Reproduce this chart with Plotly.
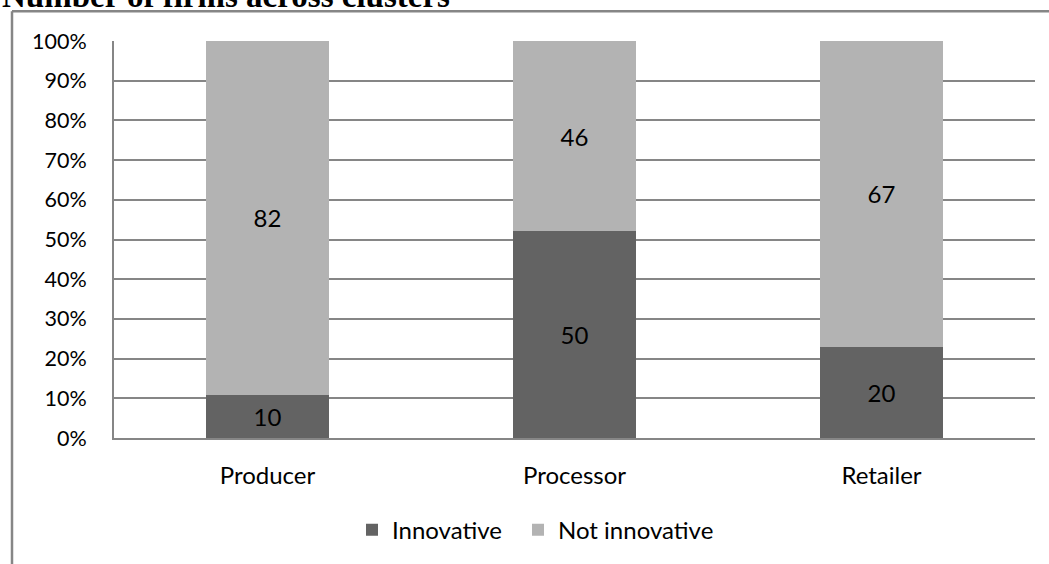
import plotly.graph_objects as go

categories = ["Producer", "Processor", "Retailer"]
innovative = [10, 50, 20]
not_innovative = [82, 46, 67]
series_names = ["Innovative", "Not innovative"]
y_ticks = [0, 10, 20, 30, 40, 50, 60, 70, 80, 90, 100]
y_tick_labels = [f"{v}%" for v in y_ticks]
title_text = "Number of firms across clusters"

FONT = "Lato"
W, H = 1049, 564
L, R, T, B = 114, 14, 41, 122
pw, ph = W - L - R, H - T - B

def px_x(p):
    return (p - L) / pw

def px_y(p):
    return (H - B - p) / ph

fig = go.Figure()
fig.add_trace(go.Bar(
    x=categories, y=innovative, name=series_names[0], legend="legend",
    marker=dict(color="#636363", line=dict(width=0)),
    text=[str(v) for v in innovative], textposition="inside",
    insidetextanchor="middle", textangle=0,
    textfont=dict(family=FONT, size=24, color="#000000"),
))
fig.add_trace(go.Bar(
    x=categories, y=not_innovative, name=series_names[1], legend="legend2",
    marker=dict(color="#b3b3b3", line=dict(width=0)),
    text=[str(v) for v in not_innovative], textposition="inside",
    insidetextanchor="middle", textangle=0,
    textfont=dict(family=FONT, size=24, color="#000000"),
))

legend_common = dict(orientation="h", xanchor="left", yanchor="middle",
                     y=px_y(535), bgcolor="rgba(0,0,0,0)",
                     font=dict(family=FONT, size=24, color="#000000"))

fig.update_layout(
    width=W, height=H,
    margin=dict(l=L, r=R, t=T, b=B, pad=0),
    barmode="stack", barnorm="percent", bargap=0.6,
    plot_bgcolor="white", paper_bgcolor="white",
    font=dict(family=FONT, size=23, color="#000000"),
    showlegend=True,
    legend=dict(x=px_x(352), **legend_common),
    legend2=dict(x=px_x(518), **legend_common),
    uniformtext=dict(mode=False),
)
fig.update_xaxes(showgrid=False, showline=True, linecolor="#868686", linewidth=2,
                 ticks="", tickfont=dict(family=FONT, size=24), ticklabelstandoff=15)
fig.update_yaxes(range=[0, 100], tickvals=y_ticks, ticktext=y_tick_labels,
                 showgrid=True, gridcolor="#868686", gridwidth=2,
                 showline=True, linecolor="#868686", linewidth=2,
                 zeroline=False, ticks="", tickfont=dict(family=FONT, size=21.5),
                 ticklabelstandoff=21)

# outer chart border (left and top sides visible)
fig.add_shape(type="line", xref="paper", yref="paper",
              x0=px_x(12), x1=px_x(12), y0=px_y(11), y1=px_y(580),
              line=dict(color="#868686", width=2.5))
fig.add_shape(type="line", xref="paper", yref="paper",
              x0=px_x(12), x1=px_x(1060), y0=px_y(11), y1=px_y(11),
              line=dict(color="#868686", width=2.5))

fig.add_annotation(text="<b>" + title_text + "</b>", xref="paper", yref="paper",
                   x=px_x(0), xanchor="left", y=px_y(-4), yanchor="middle",
                   showarrow=False,
                   font=dict(family="Liberation Serif", size=33, color="#000000"))

fig.write_html("out.html")
